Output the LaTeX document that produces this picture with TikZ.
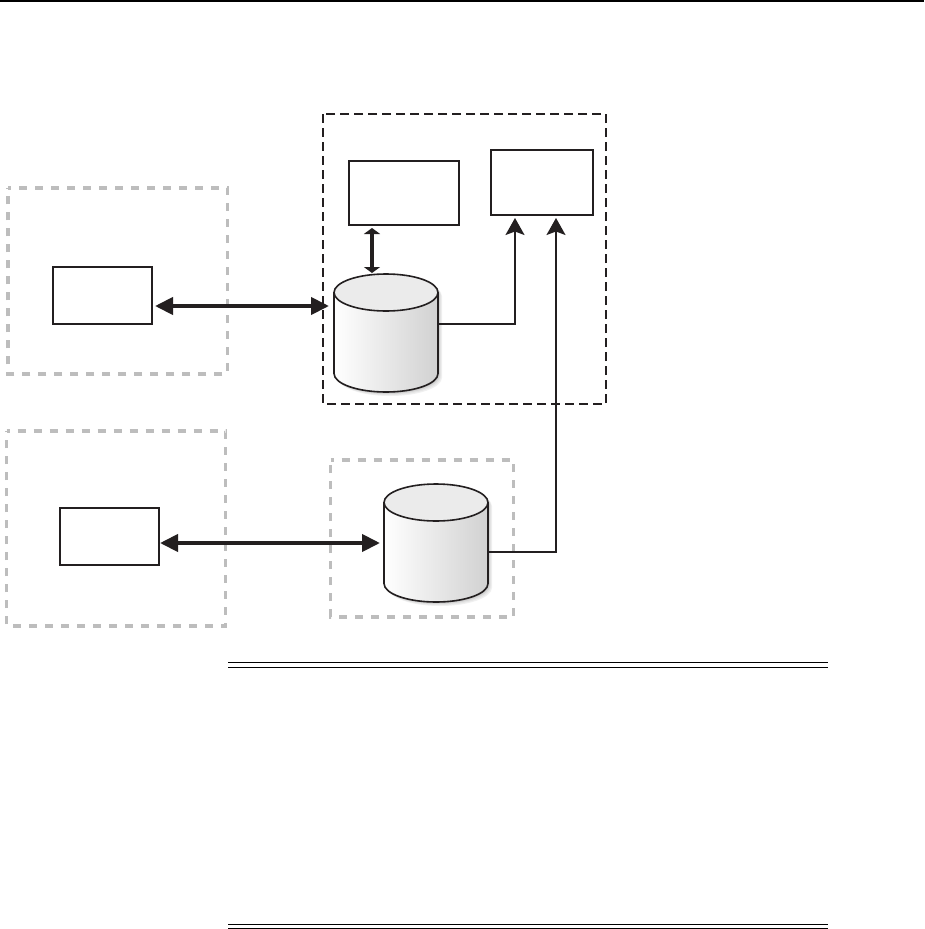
\documentclass[tikz,border=0pt]{standalone}
\usetikzlibrary{arrows.meta}
\definecolor{inkblk}{HTML}{231F20}
\definecolor{dashgray}{HTML}{BDBDBD}
\tikzset{
  x=1pt,y=-1pt,
  boxnode/.style={draw=inkblk,line width=1.6pt,fill=white,minimum width=#1,inner sep=0pt,outer sep=0pt},
  region/.style={line width=3.8pt,draw=dashgray,dash pattern=on 8pt off 8pt,dash phase=5pt},
  blackregion/.style={line width=1.8pt,draw=inkblk,dash pattern=on 9pt off 5pt},
  thickarrow/.style={line width=4pt,draw=inkblk,{Triangle[length=18pt,width=17pt,fill=inkblk]}-{Triangle[length=18pt,width=17pt,fill=inkblk]}},
  shortarrow/.style={line width=4pt,draw=inkblk,{Triangle[length=6pt,width=16pt,fill=inkblk]}-{Triangle[length=6pt,width=16pt,fill=inkblk]}},
  thinarrow/.style={line width=1.6pt,draw=inkblk,-{Stealth[length=17pt,width=19pt,inset=3.5pt,fill=inkblk]}},
  rulerline/.style={line width=1.2pt,draw=black},
  anchorbox/.style={inner sep=0pt,outer sep=0pt,minimum width=104pt,minimum height=118pt}
}
% #1 name, #2 left x, #3 top y
\newcommand{\dbcyl}[3]{%
  \begin{scope}[shift={(#2,#3)}]
    \foreach \off/\gr in {4/94,3/90,2/84,1/76}{
      \fill[black!\the\numexpr 100-\gr\relax!white]
        (\off,18.5+\off) -- (\off,99.5+\off)
        arc[start angle=180,end angle=360,x radius=52pt,y radius=18.5pt]
        -- (104+\off,18.5+\off) arc[start angle=0,end angle=180,x radius=52pt,y radius=18.5pt] -- cycle;
    }
    \shade[left color=white,right color=black!18]
      (0,18.5) -- (0,99.5)
      arc[start angle=180,end angle=360,x radius=52pt,y radius=18.5pt]
      -- (104,18.5) arc[start angle=0,end angle=180,x radius=52pt,y radius=18.5pt] -- cycle;
    \draw[inkblk,line width=1.6pt,fill=black!8] (52,18.5) ellipse[x radius=52pt,y radius=18.5pt];
    \draw[inkblk,line width=1.6pt] (0,18.5) -- (0,99.5)
      arc[start angle=180,end angle=360,x radius=52pt,y radius=18.5pt] -- (104,18.5);
    \node[anchorbox] (#1) at (52,59) {};
  \end{scope}
}
\begin{document}
\begin{tikzpicture}
\useasboundingbox (0,0) rectangle (924,929);
\fill[white] (0,0) rectangle (924,929);
% rules
\coordinate (topL) at (0,1); \coordinate (topR) at (924,1);
\draw[rulerline] (topL) -- (topR);
\foreach \yy in {662.5,667.5,924.4,928.7}{
  \draw[rulerline] (228,\yy) -- (828,\yy);
}
% regions
\draw[blackregion] (323,114) rectangle (606,404);
\draw[region] (8,187.7) -- (227.5,187.7) -- (227.5,374) -- (8,374) -- cycle;
\draw[region] (6.5,431) -- (225.5,431) -- (225.5,626) -- (6.5,626) -- cycle;
\draw[region] (330.5,460) -- (513.5,460) -- (513.5,617) -- (330.5,617) -- cycle;
% boxes
\node[boxnode=110pt,minimum height=64pt] (boxA) at (404,193) {};
\node[boxnode=102pt,minimum height=65pt] (boxB) at (542,182.5) {};
\node[boxnode=99pt,minimum height=57pt] (boxC) at (102.5,295.5) {};
\node[boxnode=99pt,minimum height=57pt] (boxD) at (109.5,536.5) {};
% cylinders
\dbcyl{cylA}{334}{274}
\dbcyl{cylB}{384}{484}
% connectors
\draw[thinarrow] ([yshift=9pt]cylA.east) -| ([xshift=-27pt,yshift=-3pt]boxB.south);
\draw[thinarrow] ([yshift=-9pt]cylB.east) -| ([xshift=14pt,yshift=-3pt]boxB.south);
\draw[shortarrow] ([xshift=-32pt,yshift=-3pt]boxA.south) -- ([xshift=-14pt,yshift=1pt]cylA.north);
\draw[thickarrow] ([xshift=3pt,yshift=-10.5pt]boxC.east) -- ([xshift=-5pt,yshift=27pt]cylA.west);
\draw[thickarrow] ([xshift=1pt,yshift=-6.5pt]boxD.east) -- ([xshift=-4pt]cylB.west);
\end{tikzpicture}
\end{document}
